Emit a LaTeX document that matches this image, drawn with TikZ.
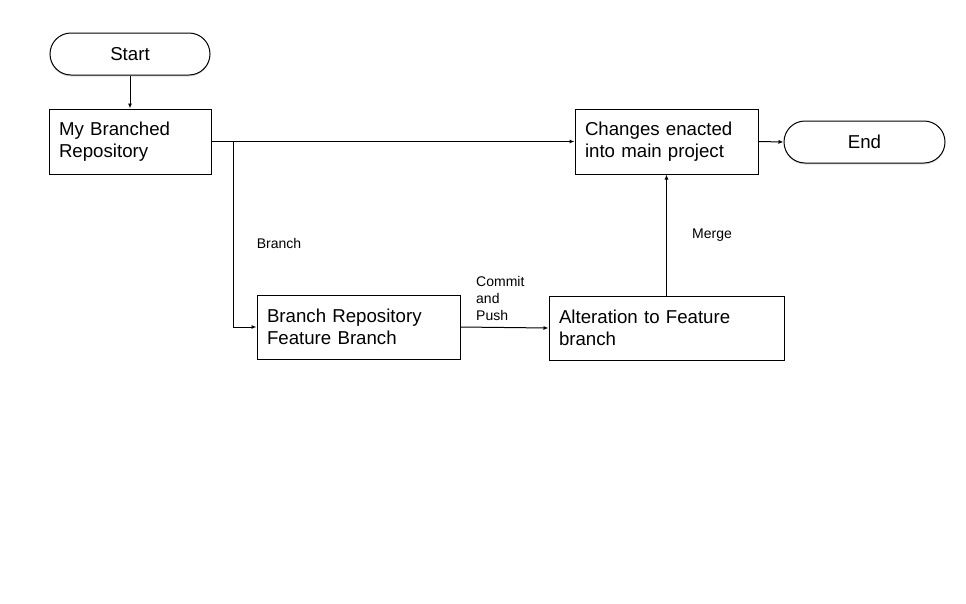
\documentclass[tikz,border=0pt]{standalone}
\usepackage{fontspec}
\setmainfont{Liberation Sans}
\usetikzlibrary{arrows.meta,shadows}
\begin{document}
\begin{tikzpicture}[x=1pt,y=-1pt,
  box/.style={draw=black,line width=1pt,fill=white,align=left,inner xsep=10pt,inner ysep=0pt,
    font=\fontsize{18.67}{22}\selectfont},
  term/.style={draw=black,line width=1pt,fill=white,rounded corners=21pt,inner sep=0pt,
    font=\fontsize{18.67}{22}\selectfont,
    drop shadow={shadow xshift=0pt,shadow yshift=-1.5pt,opacity=0.25,fill=gray}},
  lbl/.style={inner sep=0pt,align=left,font=\fontsize{14}{17}\selectfont},
  conn/.style={line width=1pt,-{Latex[length=5pt,width=4pt]}}]
\useasboundingbox (0,0) rectangle (966,603);
\fill[white] (0,0) rectangle (966,603);
\node[term,minimum width=160pt,minimum height=42pt] (start) at (130,54) {Start};
\node[box,text width=142pt,minimum height=65pt] (mbr) at (130,141.5) {My Branched\\Repository};
\node[box,text width=163pt,minimum height=65pt] (chg) at (666.5,141.5) {Changes enacted\\into main project};
\node[term,minimum width=161pt,minimum height=42pt] (end) at (864.5,142) {End};
\node[box,text width=183pt,minimum height=64pt] (brf) at (358.5,327) {Branch Repository\\Feature Branch};
\node[box,text width=215pt,minimum height=64pt] (alt) at (666.5,328) {Alteration to Feature\\branch};
\coordinate (split) at (233,142);
\draw[conn] (start) -- (mbr);
\draw[conn] (mbr.east) -- (chg.west);
\draw[conn] (split) |- (brf.west);
\draw[conn] (brf.east) -- (alt.west);
\draw[conn] (alt.north) -- (chg.south);
\draw[conn] (chg.east) -- (end.west);
\node[lbl] (lb) at (279,243) {Branch};
\node[lbl,anchor=west] (lc) at (476,298) {Commit\\and\\Push};
\node[lbl] (lm) at (712,235) {Merge};
\end{tikzpicture}
\end{document}
